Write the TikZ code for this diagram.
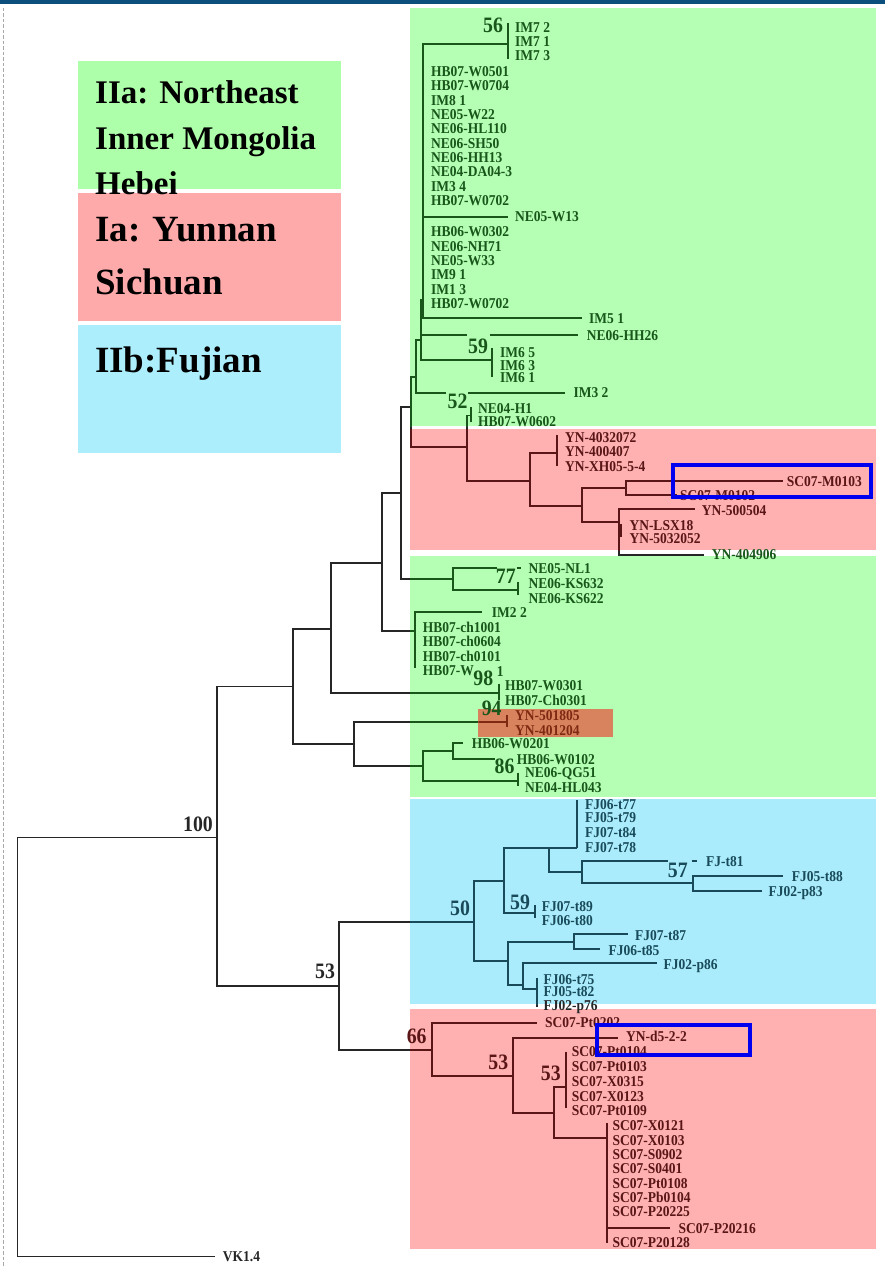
\documentclass[tikz,border=0pt]{standalone}
\usepackage{fontspec}
\setmainfont{Liberation Serif}
\newfontfamily\labfont[FakeStretch=0.9]{Liberation Serif}
\definecolor{pgreen}{HTML}{B4FFB4}
\definecolor{pred}{HTML}{FFB0B0}
\definecolor{pblue}{HTML}{AAECFB}
\definecolor{porange}{HTML}{D8825E}
\definecolor{lgreen}{HTML}{AEFFA9}
\definecolor{lred}{HTML}{FFAAAA}
\definecolor{lblue}{HTML}{ACEEFC}
\definecolor{tk}{HTML}{262626}
\definecolor{tg}{HTML}{18561A}
\definecolor{tr}{HTML}{5A1616}
\definecolor{tb}{HTML}{184A5A}
\definecolor{to}{HTML}{7E2A12}
\definecolor{hblue}{HTML}{0000F0}
\definecolor{topbar}{HTML}{0C4E7C}
\definecolor{dgrey}{HTML}{A8A8A8}
\colorlet{tc}{tk}

\newcommand\treelines{%
\begin{scope}[tl]
\coordinate (root) at (17.5,1047);
\coordinate (vkend) at (215,1256.5);
\coordinate (n100) at (217,837.5);
\draw (root) |- (n100); \draw (root) |- (vkend);
\coordinate (nA) at (293,686.5);
\coordinate (n53) at (339.3,986);
\draw (n100) |- (nA); \draw (n100) |- (n53);
\coordinate (nB) at (331,629);
\coordinate (nC) at (354,744);
\draw (nA) |- (nB); \draw (nA) |- (nC);
\coordinate (nD) at (382,563);
\coordinate (b98) at (499,693);
\draw (nB) |- (nD); \draw (nB) |- (b98);
\draw (499,683.5) -- (499,700);
\coordinate (nE) at (400.7,493);
\coordinate (nIM) at (415,631);
\draw (nD) |- (nE); \draw (nD) |- (nIM);
\coordinate (nG0) at (410.7,406.7);
\coordinate (nNE) at (453.3,579);
\draw (nE) |- (nG0); \draw (nE) |- (nNE);
% upper green
\coordinate (nX2) at (415.7,377);
\coordinate (nRd) at (466.7,446.7);
\draw (nG0) |- (nX2); \draw (nG0) |- (nRd);
\coordinate (nX1) at (420.7,340);
\draw (nX2) |- (nX1);
\coordinate (im32a) at (446,392.7);
\coordinate (im32b) at (468,392.7);
\coordinate (im32c) at (565,392.7);
\draw (nX2) |- (im32a); \draw (im32b) -- (im32c);
\coordinate (nP) at (422.7,300);
\draw (nX1) |- (nP);
\coordinate (hh26a) at (466.7,335);
\coordinate (hh26b) at (490,335);
\coordinate (hh26c) at (578,335);
\draw (nX1) |- (hh26a); \draw (hh26b) -- (hh26c);
\coordinate (im6) at (491.7,360);
\draw (nX1) |- (im6); \draw (491.7,348.3) -- (491.7,376.7);
\coordinate (im7) at (508.3,44.3);
\draw (nP) |- (im7); \draw (508.3,23.3) -- (508.3,59.3);
\coordinate (w13) at (508.3,216.7);
\draw (nP) |- (w13);
\coordinate (im51) at (581.7,318.3);
\draw (nP) |- (im51);
% red 1
\coordinate (ne04) at (471,415.5);
\draw (nRd) |- (ne04); \draw (471,407) -- (471,422);
\coordinate (nR1) at (530,481);
\draw (nRd) |- (nR1);
\coordinate (yn1) at (556.7,453.3);
\draw (nR1) |- (yn1); \draw (556.7,435) -- (556.7,466);
\coordinate (nR2) at (582.3,506);
\draw (nR1) |- (nR2);
\coordinate (nR3) at (625.7,487.7);
\draw (nR2) |- (nR3);
\coordinate (m103) at (783.3,481);
\coordinate (m102) at (676.7,495);
\draw (nR3) |- (m103); \draw (nR3) |- (m102);
\coordinate (nR4) at (619,521.7);
\draw (nR2) |- (nR4);
\coordinate (y504) at (695,509.3);
\coordinate (lsx) at (621,531);
\coordinate (y906) at (704,555);
\draw (nR4) |- (y504); \draw (nR4) |- (lsx); \draw (621,524) -- (621,537); \draw (nR4) |- (y906);
% green 2
\coordinate (nl1a) at (496.7,568.3);
\coordinate (nl1b) at (516.7,568.3);
\coordinate (nl1c) at (520.7,568.3);
\draw (nNE) |- (nl1a); \draw (nl1b) -- (nl1c);
\coordinate (ks) at (518.3,590);
\draw (nNE) |- (ks); \draw (518.3,581.7) -- (518.3,595);
\coordinate (im22) at (481.7,611.7);
\draw (nIM) |- (im22); \draw (415,631) -- (415,668.3);
\coordinate (yn94) at (506.7,722);
\draw (nC) |- (yn94); \draw (506.7,715) -- (506.7,727);
\coordinate (nH) at (422.7,766);
\draw (nC) |- (nH);
\coordinate (nH2) at (453.3,751);
\draw (nH) |- (nH2);
\coordinate (w201) at (463.3,743.3);
\coordinate (w102) at (495,759.3);
\draw (nH2) |- (w201); \draw (nH2) |- (w102);
\coordinate (qg) at (518.3,781);
\draw (nH) |- (qg); \draw (518.3,772.7) -- (518.3,786);
% blue
\coordinate (nBl) at (474,922);
\coordinate (nR66) at (431.7,1050);
\draw (n53) |- (nBl); \draw (n53) |- (nR66);
\coordinate (nB1) at (504,880.7);
\draw (nBl) |- (nB1);
\coordinate (nB2) at (549,847.7);
\draw (nB1) |- (nB2);
\coordinate (t89) at (535,913.3);
\draw (nB1) |- (t89); \draw (535,905) -- (535,918.3);
\coordinate (t77) at (577.3,847.7);
\draw (nB2) -- (t77); \draw (577.3,800) -- (577.3,847.7);
\coordinate (nB3) at (582.3,872.3);
\draw (nB2) |- (nB3);
\coordinate (t81a) at (668.3,860.7);
\coordinate (t81b) at (691.7,860.7);
\coordinate (t81c) at (697.3,860.7);
\draw (nB3) |- (t81a); \draw (t81b) -- (t81c);
\coordinate (nB4) at (693.3,883.3);
\draw (nB3) |- (nB4);
\coordinate (t88) at (783.3,876);
\coordinate (p83) at (761.7,890.7);
\draw (nB4) |- (t88); \draw (nB4) |- (p83);
\coordinate (nB5) at (508.3,960.7);
\draw (nBl) |- (nB5);
\coordinate (nB6) at (574,941.7);
\draw (nB5) |- (nB6);
\coordinate (t87) at (628.3,934.3);
\coordinate (t85) at (600,949.3);
\draw (nB6) |- (t87); \draw (nB6) |- (t85);
\coordinate (nB7) at (523.3,985);
\draw (nB5) |- (nB7);
\coordinate (p86) at (656.7,963.3);
\coordinate (t75) at (536.7,989.3);
\draw (nB7) |- (p86); \draw (nB7) |- (t75); \draw (536.7,978.3) -- (536.7,1006.7);
% red 2
\coordinate (pt202) at (536.7,1022.7);
\draw (nR66) |- (pt202);
\coordinate (nR5) at (512.7,1076);
\draw (nR66) |- (nR5);
\coordinate (d5) at (618.3,1037.7);
\draw (nR5) |- (d5);
\coordinate (nR6) at (554,1113.3);
\draw (nR5) |- (nR6);
\coordinate (pt104) at (565.7,1086.7);
\draw (nR6) |- (pt104); \draw (565.7,1051.7) -- (565.7,1108.3);
\coordinate (x121) at (606.7,1138.3);
\draw (nR6) |- (x121); \draw (606.7,1123.3) -- (606.7,1243.3);
\coordinate (p216) at (670,1228.3);
\draw (606.7,1228.3) -- (p216);
\end{scope}}

\newcommand\lb[4]{\node[lab,text=#1] (#2) at (#3) {#4};}
\newcommand\bs[4]{\node[bsl,text=#1] (#2) at (#3) {#4};}

\begin{document}
\begin{tikzpicture}[x=1pt,y=-1pt,
  tl/.style={tc,line width=1.9pt},
  lab/.style={anchor=west,inner sep=0pt,font={\labfont\bfseries\fontsize{15}{15}\selectfont},text height=10pt,text depth=0pt},
  bsl/.style={anchor=center,inner sep=0pt,font={\labfont\bfseries\fontsize{22}{22}\selectfont},text height=15pt,text depth=0pt},
  leg/.style={anchor=base west,inner sep=0pt,text=black,font={\bfseries\fontsize{33}{33}\selectfont}},
  legb/.style={anchor=base west,inner sep=0pt,text=black,font={\bfseries\fontsize{37}{37}\selectfont}},
  hbox/.style={draw=hblue,line width=4pt}]
\useasboundingbox (0,0) rectangle (885,1268);
\fill[white] (0,0) rectangle (885,1268);
\fill[topbar] (0,0) rectangle (885,4.5);
\draw[dgrey,line width=1.6pt,dash pattern=on 3.5pt off 2pt] (3.3,8) -- (3.3,1268);

% black tree
\colorlet{tc}{tk}
\treelines
% panels with recoloured tree
\fill[pgreen] (410,8.3) rectangle (876,426);
\begin{scope}\clip (410,8.3) rectangle (876,426); \colorlet{tc}{tg}\treelines\end{scope}
\fill[pred] (410,429.3) rectangle (876,550);
\begin{scope}\clip (410,429.3) rectangle (876,550); \colorlet{tc}{tr}\treelines\end{scope}
\fill[pgreen] (410,556) rectangle (876,796.5);
\begin{scope}\clip (410,556) rectangle (876,796.5); \colorlet{tc}{tg}\treelines\end{scope}
\fill[pblue] (410,798.5) rectangle (876,1004);
\begin{scope}\clip (410,798.5) rectangle (876,1004); \colorlet{tc}{tb}\treelines\end{scope}
\fill[pred] (410,1009) rectangle (876,1249.3);
\begin{scope}\clip (410,1009) rectangle (876,1249.3); \colorlet{tc}{tr}\treelines\end{scope}
\fill[porange] (478.3,709.3) rectangle (612.7,737.3);
\begin{scope}\clip (478.3,709.3) rectangle (612.7,737.3); \colorlet{tc}{to}\treelines\end{scope}

% labels green top
\lb{tg}{g1}{515,27.3}{IM7 2}
\lb{tg}{g2}{515,41.7}{IM7 1}
\lb{tg}{g3}{515,55.7}{IM7 3}
\lb{tg}{g4}{431,71.7}{HB07-W0501}
\lb{tg}{g5}{431,86}{HB07-W0704}
\lb{tg}{g6}{431,100.3}{IM8 1}
\lb{tg}{g7}{431,114.7}{NE05-W22}
\lb{tg}{g8}{431,129}{NE06-HL110}
\lb{tg}{g9}{431,143.3}{NE06-SH50}
\lb{tg}{g10}{431,157.7}{NE06-HH13}
\lb{tg}{g11}{431,172}{NE04-DA04-3}
\lb{tg}{g12}{431,186.3}{IM3 4}
\lb{tg}{g13}{431,200.7}{HB07-W0702}
\lb{tg}{g14}{515,216.7}{NE05-W13}
\lb{tg}{g15}{431,231.7}{HB06-W0302}
\lb{tg}{g16}{431,246}{NE06-NH71}
\lb{tg}{g17}{431,260.3}{NE05-W33}
\lb{tg}{g18}{431,274.7}{IM9 1}
\lb{tg}{g19}{431,289}{IM1 3}
\lb{tg}{g20}{431,303.3}{HB07-W0702}
\lb{tg}{g21}{589,318.3}{IM5 1}
\lb{tg}{g22}{586.7,335}{NE06-HH26}
\lb{tg}{g23}{500,352.5}{IM6 5}
\lb{tg}{g24}{500,365}{IM6 3}
\lb{tg}{g25}{500,377.5}{IM6 1}
\lb{tg}{g26}{573.3,392.7}{IM3 2}
\lb{tg}{g27}{478,408}{NE04-H1}
\lb{tg}{g28}{478,421.7}{HB07-W0602}
\bs{tg}{bs56}{493,25}{56}
\bs{tg}{bs59a}{478,345.7}{59}
\bs{tg}{bs52}{457.5,400.5}{52}
% red 1
\lb{tr}{r1}{565,437.3}{YN-4032072}
\lb{tr}{r2}{565,451.7}{YN-400407}
\lb{tr}{r3}{565,466.7}{YN-XH05-5-4}
\lb{tr}{r4}{786.7,481}{SC07-M0103}
\lb{tr}{r5}{680,495}{SC07-M0102}
\lb{tr}{r6}{701.7,510}{YN-500504}
\lb{tr}{r7}{629.3,525.5}{YN-LSX18}
\lb{tr}{r8}{629.3,538.5}{YN-5032052}
\lb{tg}{r9}{711.7,554}{YN-404906}
% green 2
\lb{tg}{h1}{528.3,568.3}{NE05-NL1}
\lb{tg}{h2}{528.3,583.3}{NE06-KS632}
\lb{tg}{h3}{528.3,598.3}{NE06-KS622}
\lb{tg}{h4}{491.7,612.7}{IM2 2}
\lb{tg}{h5}{422.7,627.7}{HB07-ch1001}
\lb{tg}{h6}{422.7,641.7}{HB07-ch0604}
\lb{tg}{h7}{422.7,656}{HB07-ch0101}
\lb{tg}{h8}{422.7,670.7}{HB07-W}
\lb{tg}{h8b}{496.7,671}{1}
\lb{tg}{h9}{505,685}{HB07-W0301}
\lb{tg}{h10}{505,700}{HB07-Ch0301}
\lb{to}{h11}{515,715}{YN-501805}
\lb{to}{h12}{515,730}{YN-401204}
\lb{tg}{h13}{471.7,743.3}{HB06-W0201}
\lb{tg}{h14}{516.7,759.3}{HB06-W0102}
\lb{tg}{h15}{525,772.7}{NE06-QG51}
\lb{tg}{h16}{525,787.3}{NE04-HL043}
\bs{tg}{bs77}{505.8,575.8}{77}
\bs{tg}{bs98}{483.3,677.5}{98}
\bs{tg}{bs94}{491.7,708.3}{94}
\bs{tg}{bs86}{504.5,766.2}{86}
% blue
\lb{tb}{f1}{585,804}{FJ06-t77}
\lb{tb}{f2}{585,817.3}{FJ05-t79}
\lb{tb}{f3}{585,832.7}{FJ07-t84}
\lb{tb}{f4}{585,847.3}{FJ07-t78}
\lb{tb}{f5}{706,861.7}{FJ-t81}
\lb{tb}{f6}{791.7,876.7}{FJ05-t88}
\lb{tb}{f7}{768.3,891.7}{FJ02-p83}
\lb{tb}{f8}{541.7,906}{FJ07-t89}
\lb{tb}{f9}{541.7,920.7}{FJ06-t80}
\lb{tb}{f10}{635,935}{FJ07-t87}
\lb{tb}{f11}{608.3,950.7}{FJ06-t85}
\lb{tb}{f12}{663.3,964}{FJ02-p86}
\lb{tb}{f13}{543.3,979}{FJ06-t75}
\lb{tb}{f14}{543.3,991.5}{FJ05-t82}
\lb{tk}{f15}{543.3,1005.5}{FJ02-p76}
\bs{tb}{bs57}{677.8,869.5}{57}
\bs{tb}{bs50}{460,908.3}{50}
\bs{tb}{bs59b}{520,901.7}{59}
% red 2
\lb{tr}{s1}{545,1022.7}{SC07-Pt0202}
\lb{tr}{s2}{626,1036}{YN-d5-2-2}
\lb{tr}{s3}{571.7,1051.7}{SC07-Pt0104}
\lb{tr}{s4}{571.7,1066.7}{SC07-Pt0103}
\lb{tr}{s5}{571.7,1081.7}{SC07-X0315}
\lb{tr}{s6}{571.7,1096.7}{SC07-X0123}
\lb{tr}{s7}{571.7,1110.7}{SC07-Pt0109}
\lb{tr}{s8}{612.3,1125.7}{SC07-X0121}
\lb{tr}{s9}{612.3,1140}{SC07-X0103}
\lb{tr}{s10}{612.3,1154.3}{SC07-S0902}
\lb{tr}{s11}{612.3,1168.7}{SC07-S0401}
\lb{tr}{s12}{612.3,1183}{SC07-Pt0108}
\lb{tr}{s13}{612.3,1197.3}{SC07-Pb0104}
\lb{tr}{s14}{612.3,1211.7}{SC07-P20225}
\lb{tr}{s15}{678.3,1228.3}{SC07-P20216}
\lb{tr}{s16}{612.3,1242.7}{SC07-P20128}
\bs{tr}{bs66}{416.7,1036.3}{66}
\bs{tr}{bs53a}{498.3,1061.7}{53}
\bs{tr}{bs53b}{550.8,1073.3}{53}
% black
\bs{tk}{bs100}{198,823.6}{100}
\bs{tk}{bs53c}{325,971}{53}
\lb{tk}{vk}{222.7,1256.5}{VK1.4}

% highlight boxes
\draw[hbox] (672.7,465) rectangle (870.7,497);
\draw[hbox] (597,1024.7) rectangle (750,1055.3);

% legend
\fill[lgreen] (77.5,61.4) rectangle (341.3,188.6);
\fill[lred] (77.5,193.2) rectangle (341.3,320.7);
\fill[lblue] (77.5,325.4) rectangle (341.3,452.5);
\node[leg] (la1) at (95,103.6) {IIa: Northeast};
\node[leg] (la2) at (95,149.3) {Inner Mongolia};
\node[leg] (la3) at (95,194.6) {Hebei};
\node[legb] (lb1) at (95,241) {Ia: Yunnan};
\node[legb] (lb2) at (95,294.6) {Sichuan};
\node[legb] (lc1) at (95,372.5) {IIb:Fujian};
\end{tikzpicture}
\end{document}
